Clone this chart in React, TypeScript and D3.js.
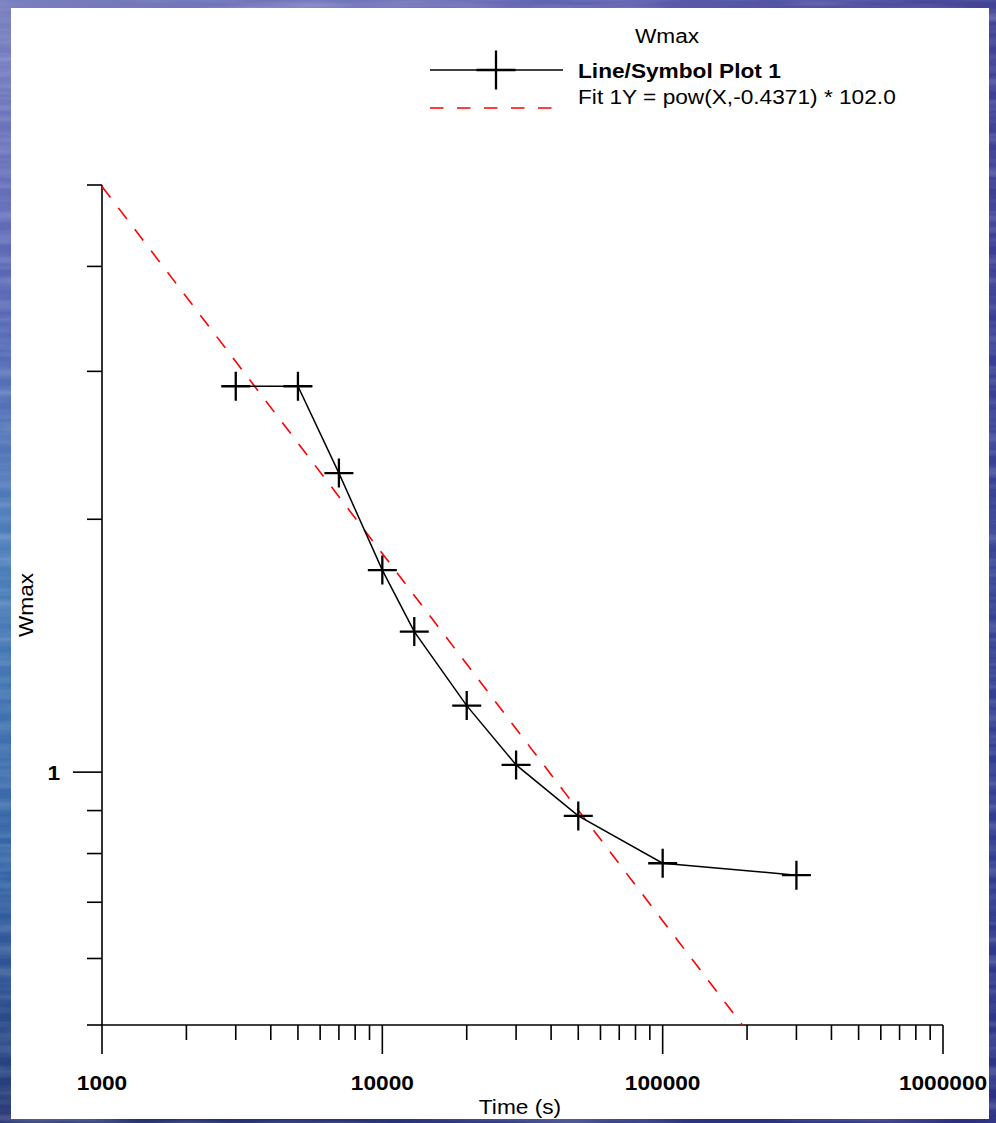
import React, { useEffect } from "react";
import * as d3 from "d3";

// Measured series: time (s) vs. Wmax
const timeValues = [3000, 5000, 7000, 10000, 13000, 20000, 30000, 50000, 100000, 300000];
const wmaxValues = [2.88, 2.88, 2.27, 1.74, 1.47, 1.2, 1.02, 0.887, 0.779, 0.754];

// Power-law fit: Y = pow(X, exponent) * coefficient
const fitExponent = -0.4371;
const fitCoefficient = 102.0;

// Axis ticks
const xMajorTicks = [1000, 10000, 100000, 1000000];
const xTickLabels = ["1000", "10000", "100000", "1000000"];
const xMinorMultipliers = [2, 3, 4, 5, 6, 7, 8, 9];
const yMajorTicks = [1];
const yTickLabels = ["1"];
const yMinorTicks = [0.5, 0.6, 0.7, 0.8, 0.9, 2, 3, 4, 5];

const legendTitle = "Wmax";
const seriesName = "Line/Symbol Plot 1";
const fitName = "Fit 1Y = pow(X,-0.4371) * 102.0";
const xTitle = "Time (s)";
const yTitle = "Wmax";

const W = 996;
const H = 1123;
const FONT = "'Liberation Sans', Arial, Helvetica, sans-serif";
const SX = 1.08;

const x = d3.scaleLog().domain([1000, 1000000]).range([102, 943]);
const y = d3.scaleLog().domain([0.5, 5]).range([1025, 185]);

function plusPath(cx: number, cy: number, size: number) {
  const h = size / 2;
  return `M${cx - h},${cy}H${cx + h}M${cx},${cy - h}V${cy + h}`;
}

function Label(props: {
  x: number;
  y: number;
  text: string;
  anchor?: "start" | "middle" | "end";
  bold?: boolean;
  size?: number;
  rotate?: number;
}) {
  const { anchor = "start", bold = false, size = 21, rotate = 0 } = props;
  return (
    <text
      transform={`translate(${props.x},${props.y}) rotate(${rotate}) scale(${SX},1)`}
      textAnchor={anchor}
      fontFamily={FONT}
      fontSize={size}
      fontWeight={bold ? "bold" : "normal"}
      fill="#000"
    >
      {props.text}
    </text>
  );
}

export default function App() {
  useEffect(() => {
    document.body.style.margin = "0";
    document.body.style.overflow = "hidden";
  }, []);

  const data = timeValues.map((t, i) => [t, wmaxValues[i]] as [number, number]);
  const line = d3
    .line<[number, number]>()
    .x((d) => x(d[0]))
    .y((d) => y(d[1]));

  // Fit curve from the left edge down to where it leaves the bottom of the y range
  const fitY = (t: number) => fitCoefficient * Math.pow(t, fitExponent);
  const xEnd = Math.pow(y.domain()[0] / fitCoefficient, 1 / fitExponent);
  const fitPoints: [number, number][] = d3
    .range(0, 41)
    .map((i) => {
      const lt = Math.log10(1000) + (Math.log10(xEnd) - Math.log10(1000)) * (i / 40);
      const t = Math.pow(10, lt);
      return [t, fitY(t)] as [number, number];
    });

  const xMinor: number[] = [];
  for (let d = 0; d < xMajorTicks.length - 1; d++) {
    xMinorMultipliers.forEach((m) => xMinor.push(xMajorTicks[d] * m));
  }

  const x0 = x.range()[0];
  const yBottom = y.range()[0];

  return (
    <svg
      width={W}
      height={H}
      viewBox={`0 0 ${W} ${H}`}
      style={{ position: "absolute", left: 0, top: 0, display: "block" }}
    >
      <defs>
        <linearGradient id="bgV" x1="0" y1="0" x2="0" y2="1">
          <stop offset="0" stopColor="#7a7fbf" />
          <stop offset="0.25" stopColor="#5a66b6" />
          <stop offset="0.5" stopColor="#4b7fba" />
          <stop offset="0.78" stopColor="#3463a6" />
          <stop offset="0.96" stopColor="#26407f" />
          <stop offset="1" stopColor="#222f6c" />
        </linearGradient>
        <linearGradient id="bgH" x1="0" y1="0" x2="1" y2="0">
          <stop offset="0" stopColor="#3a3a9a" stopOpacity="0" />
          <stop offset="0.5" stopColor="#3a3a9a" stopOpacity="0.35" />
          <stop offset="1" stopColor="#2f2f88" stopOpacity="0.75" />
        </linearGradient>
        <filter id="streaks" x="0" y="0" width="100%" height="100%">
          <feTurbulence type="fractalNoise" baseFrequency="0.006 0.09" numOctaves="3" seed="4" />
          <feColorMatrix
            type="matrix"
            values="0 0 0 0 0.75  0 0 0 0 0.82  0 0 0 0 0.95  0 0 0 1.2 -0.45"
          />
        </filter>
      </defs>

      {/* slide background */}
      <rect x={0} y={0} width={W} height={H} fill="url(#bgV)" />
      <rect x={0} y={0} width={W} height={H} fill="url(#bgH)" />
      <rect x={0} y={0} width={W} height={H} filter="url(#streaks)" opacity={0.45} />

      {/* chart panel */}
      <rect x={11} y={8} width={978} height={1111} fill="#fff" />

      {/* axes */}
      <g stroke="#000" fill="none" strokeWidth={1.6}>
        <line x1={x0} y1={y.range()[1]} x2={x0} y2={yBottom} />
        <line x1={x0} y1={yBottom} x2={x.range()[1]} y2={yBottom} />
        {xMajorTicks.map((t) => (
          <line key={`xM${t}`} x1={x(t)} y1={yBottom} x2={x(t)} y2={yBottom + 29} />
        ))}
        {xMinor.map((t) => (
          <line key={`xm${t}`} x1={x(t)} y1={yBottom} x2={x(t)} y2={yBottom + 15} />
        ))}
        {yMajorTicks.map((v) => (
          <line key={`yM${v}`} x1={x0 - 29} y1={y(v)} x2={x0} y2={y(v)} />
        ))}
        {yMinorTicks.map((v) => (
          <line key={`ym${v}`} x1={x0 - 15} y1={y(v)} x2={x0} y2={y(v)} />
        ))}
      </g>

      {/* tick labels */}
      {xMajorTicks.map((t, i) => (
        <Label key={`xl${t}`} x={x(t)} y={1090} text={xTickLabels[i]} anchor="middle" bold />
      ))}
      {yMajorTicks.map((v, i) => (
        <Label key={`yl${v}`} x={60} y={y(v) + 8} text={yTickLabels[i]} anchor="end" bold />
      ))}

      {/* axis titles */}
      <Label x={520} y={1114} text={xTitle} anchor="middle" />
      <Label x={33} y={(y.range()[0] + y.range()[1]) / 2} text={yTitle} anchor="middle" rotate={-90} />

      {/* fit curve */}
      <path
        d={line(fitPoints) || ""}
        fill="none"
        stroke="#ff0000"
        strokeWidth={1.6}
        strokeDasharray="14 13"
      />

      {/* data series */}
      <path d={line(data) || ""} fill="none" stroke="#000" strokeWidth={1.5} />
      {data.map((d, i) => (
        <path
          key={`pt${i}`}
          d={plusPath(x(d[0]), y(d[1]), 29)}
          stroke="#000"
          strokeWidth={2.3}
          fill="none"
        />
      ))}

      {/* legend */}
      <Label x={667} y={43} text={legendTitle} anchor="middle" />
      <line x1={430} y1={70} x2={563} y2={70} stroke="#000" strokeWidth={1.5} />
      <path d={plusPath(496, 70, 39)} stroke="#000" strokeWidth={2.3} fill="none" />
      <Label x={578} y={78} text={seriesName} bold />
      <line
        x1={430}
        y1={108}
        x2={563}
        y2={108}
        stroke="#ff0000"
        strokeWidth={1.6}
        strokeDasharray="13.5 13.5"
      />
      <Label x={578} y={104} text={fitName} />
    </svg>
  );
}
